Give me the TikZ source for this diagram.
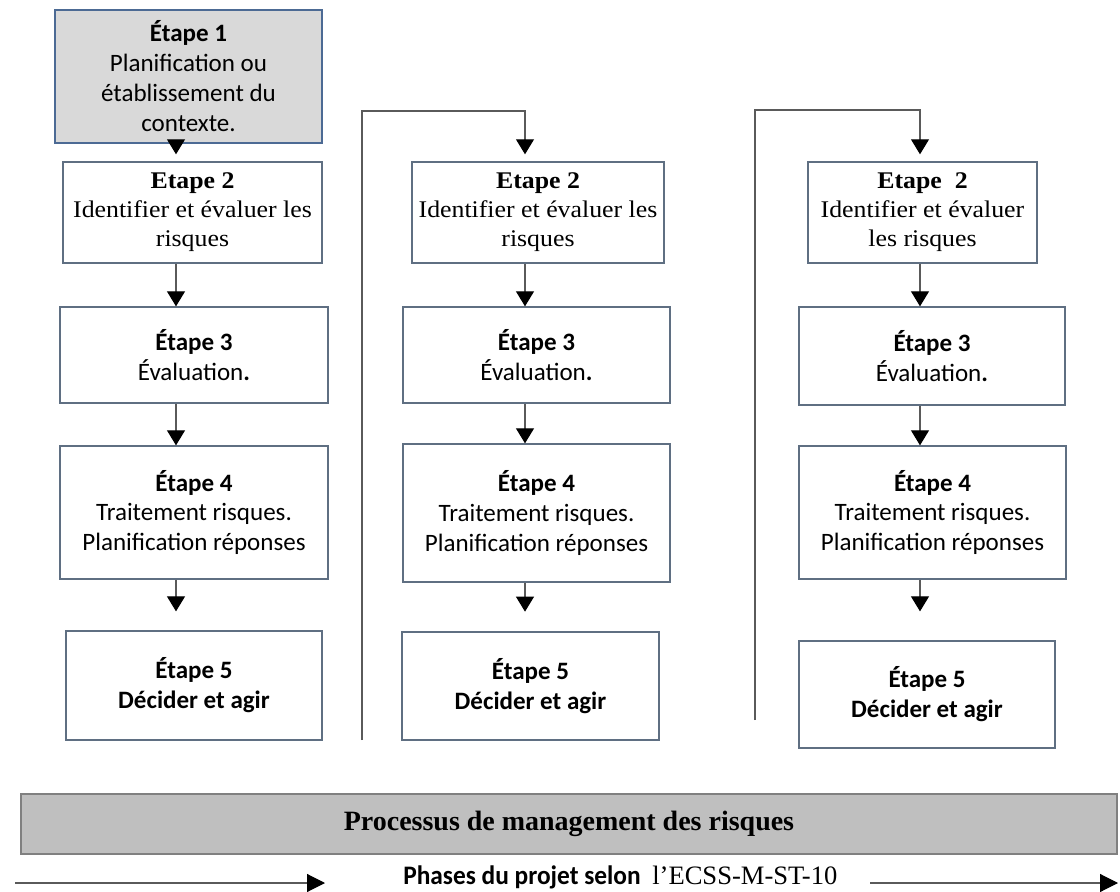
\documentclass[tikz,border=0pt]{standalone}
\usepackage{fontspec}
\setmainfont{Carlito}
\newfontfamily\bookrm[FakeStretch=1.08]{Liberation Serif}
\newfontfamily\timesrm{Liberation Serif}
\newfontfamily\phasesf[FakeStretch=0.95]{Carlito}
\usetikzlibrary{arrows.meta}

\definecolor{boxline}{HTML}{5F6F82}
\definecolor{firstline}{HTML}{4C6A94}
\definecolor{linkgray}{HTML}{5A5A5A}

\begin{document}
\begin{tikzpicture}[x = 0.025cm, y = -0.025cm,
	> = {Triangle[length = 10.7pt, width = 12.8pt, color = black]},
	etape/.style = {draw = boxline, line width = 0.9pt, align = center, inner sep = 0pt,
		font = \fontsize{17.8}{21.3}\selectfont},
	serifetape/.style = {etape, font = \bookrm\fontsize{17}{20.6}\selectfont},
	link/.style = {draw = linkgray, line width = 0.8pt, ->}]

	\useasboundingbox (0, 0) rectangle (1120, 892);

	% Column 1
	
	\node [etape, fill = gray!30, draw = firstline, minimum width = 6.675cm, minimum height = 3.325cm] (e11) at (188.5, 76.5)
		{\textbf{Étape 1}\\ Planification ou\\ établissement du\\ contexte.};
	\node [serifetape, minimum width = 6.475cm, minimum height = 2.525cm] (e12) at (192.5, 212.5)
		{\textbf{Etape 2}\\ Identifier et évaluer les\\ risques};
	\node [etape, minimum width = 6.7cm, minimum height = 2.4cm] (e13) at (194, 355)
		{\textbf{Étape 3}\\ Évaluation\textbf{.}};
	\node [etape, minimum width = 6.7cm, minimum height = 3.325cm] (e14) at (194, 512.5)
		{\textbf{Étape 4}\\ Traitement risques.\\ Planification réponses};
	\node [etape, minimum width = 6.4cm, minimum height = 2.725cm] (e15) at (194, 685.5)
		{\textbf{Étape 5}\\ \textbf{Décider et agir}};
	
	\coordinate (a1) at (176, 0);
	
	\draw [link, shorten > = 5pt] (e11.south -| a1) -- (e12.north -| a1);
	\draw [link] (e12.south -| a1) -- (e13.north -| a1);
	\draw [link] (e13.south -| a1) -- (e14.north -| a1);
	\draw [link, shorten > = 13.5pt] (e14.south -| a1) -- (e15.north -| a1);
	
	% Column 2
	
	\node [serifetape, minimum width = 6.3cm, minimum height = 2.525cm] (e22) at (538, 212.5)
		{\textbf{Etape 2}\\ Identifier et évaluer les\\ risques};
	\node [etape, minimum width = 6.675cm, minimum height = 2.4cm] (e23) at (536.5, 355)
		{\textbf{Étape 3}\\ Évaluation\textbf{.}};
	\node [etape, minimum width = 6.675cm, minimum height = 3.45cm] (e24) at (536.5, 513)
		{\textbf{Étape 4}\\ Traitement risques.\\ Planification réponses};
	\node [etape, minimum width = 6.425cm, minimum height = 2.7cm] (e25) at (530.5, 686)
		{\textbf{Étape 5}\\ \textbf{Décider et agir}};
	
	\coordinate (l2) at (362, 740);
	\coordinate (t2) at (525, 111);
	
	\draw [link, shorten > = 5pt] (l2) |- (t2) -- (e22.north -| t2);
	\draw [link] (e22.south -| t2) -- (e23.north -| t2);
	\draw [link] (e23.south -| t2) -- (e24.north -| t2);
	\draw [link, shorten > = 14pt] (e24.south -| t2) -- (e25.north -| t2);
	
	% Column 3
	
	\node [serifetape, minimum width = 5.725cm, minimum height = 2.525cm] (e32) at (922.5, 212.5)
		{\textbf{Etape\ \ 2}\\ Identifier et évaluer\\ les risques};
	\node [etape, minimum width = 6.65cm, minimum height = 2.45cm] (e33) at (932, 356)
		{\textbf{Étape 3}\\ Évaluation\textbf{.}};
	\node [etape, minimum width = 6.675cm, minimum height = 3.325cm] (e34) at (932.5, 512.5)
		{\textbf{Étape 4}\\ Traitement risques.\\ Planification réponses};
	\node [etape, minimum width = 6.4cm, minimum height = 2.675cm] (e35) at (927, 694.5)
		{\textbf{Étape 5}\\ \textbf{Décider et agir}};
	
	\coordinate (l3) at (755, 720);
	\coordinate (t3) at (920, 110);
	
	\draw [link, shorten > = 5pt] (l3) |- (t3) -- (e32.north -| t3);
	\draw [link] (e32.south -| t3) -- (e33.north -| t3);
	\draw [link] (e33.south -| t3) -- (e34.north -| t3);
	\draw [link, shorten > = 20.6pt] (e34.south -| t3) -- (e35.north -| t3);
	
	% Process bar and project phases
	
	\node [draw = gray, fill = gray!50, line width = 1.1pt, minimum width = 27.4cm, minimum height = 1.5cm,
		font = \timesrm\bfseries\fontsize{19.9}{24}\selectfont] (process) at (569, 824)
		{Processus de management des risques};
	
	\node [anchor = base west, inner sep = 0pt, font = \phasesf\bfseries\fontsize{19}{22}\selectfont] (phases) at (403, 884)
		{Phases du projet selon};
	\node [anchor = base west, inner sep = 0pt, font = \timesrm\fontsize{18.9}{22}\selectfont] (ecss) at (652, 884)
		{l’ECSS-M-ST-10};
	
	\coordinate (p0) at (15, 883);
	\coordinate (p1) at (325, 883);
	\coordinate (p2) at (870, 883);
	\coordinate (p3) at (1118, 883);
	
	\draw [link, > = {Triangle[length = 12.8pt, width = 12.8pt, color = black]}] (p0) -- (p1);
	\draw [link, > = {Triangle[length = 12.8pt, width = 12.8pt, color = black]}] (p2) -- (p3);

\end{tikzpicture}
\end{document}
